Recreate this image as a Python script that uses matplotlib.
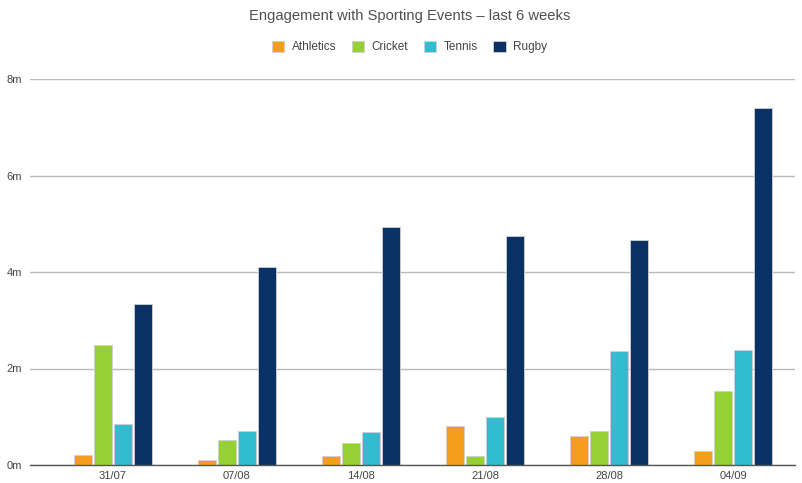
import numpy as np
import matplotlib.pyplot as plt

plt.rcParams['font.family'] = ['Liberation Sans', 'DejaVu Sans']

# Data (millions)
weeks = ['31/07', '07/08', '14/08', '21/08', '28/08', '04/09']
athletics = [0.21, 0.10, 0.19, 0.81, 0.60, 0.29]
cricket = [2.49, 0.52, 0.46, 0.19, 0.70, 1.53]
tennis = [0.85, 0.70, 0.68, 0.99, 2.36, 2.38]
rugby = [3.34, 4.10, 4.93, 4.75, 4.66, 7.40]

series = [('Athletics', athletics, '#F79D1C'),
          ('Cricket', cricket, '#96D035'),
          ('Tennis', tennis, '#31BDD1'),
          ('Rugby', rugby, '#0A3163')]

fig = plt.figure(figsize=(8.03, 4.83), dpi=100)
ax = fig.add_axes([30 / 803, 18 / 483, 765 / 803, 386 / 483])

x = np.arange(len(weeks))
pitch = 0.161
width = 0.145
for i, (name, vals, col) in enumerate(series):
    ax.bar(x + (i - 1.5) * pitch, vals, width, color=col, label=name,
           edgecolor='#d0d0d0', linewidth=0.6, zorder=3)

ax.set_ylim(0, 8)
ax.set_xlim(-0.669, 5.5)
ax.set_yticks([0, 2, 4, 6, 8])
ax.set_yticklabels(['0m', '2m', '4m', '6m', '8m'])
ax.set_xticks(x)
ax.set_xticklabels(weeks)
ax.tick_params(axis='both', length=0, labelsize=8, labelcolor='#444444')
ax.tick_params(axis='y', pad=6)
ax.tick_params(axis='x', pad=4)

ax.grid(axis='y', color='#bbbbbb', linewidth=1, zorder=0)
for s in ['top', 'right', 'left']:
    ax.spines[s].set_visible(False)
ax.spines['bottom'].set_color('#555555')
ax.spines['bottom'].set_linewidth(1)
ax.spines['bottom'].set_zorder(4)

fig.text(0.51, 1 - 16 / 483, 'Engagement with Sporting Events \u2013 last 6 weeks',
         ha='center', va='center', fontsize=10.6, color='#505050')

fig.legend(loc='center', bbox_to_anchor=(0.51, 1 - 47 / 483), ncol=4,
           frameon=False, fontsize=8.5, handlelength=1.05, handleheight=1.05,
           handletextpad=0.6, columnspacing=1.35, labelcolor='#444444')

plt.savefig('out.png', dpi=100)
